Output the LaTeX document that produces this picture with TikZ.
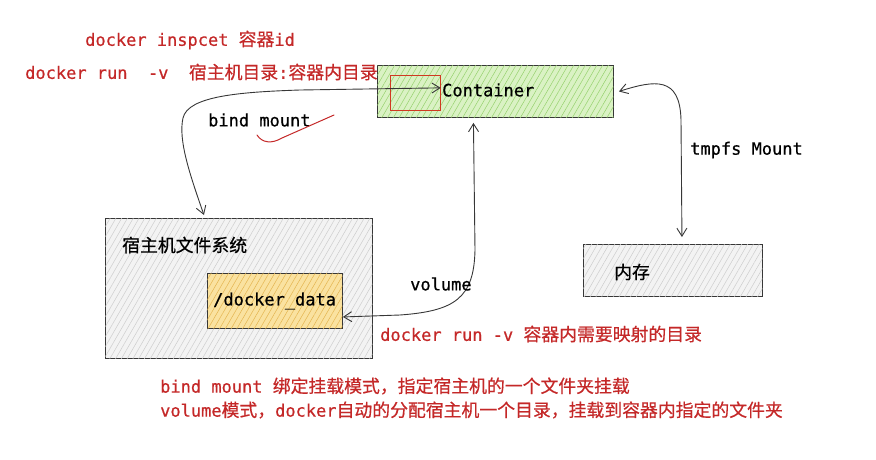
\documentclass[tikz,border=0pt]{standalone}
\usepackage{fontspec}
\setmonofont[FakeBold=0.6]{DejaVu Sans Mono}
\newfontfamily\cjkfont[Scale=1.05,FakeBold=0.6]{Noto Sans CJK SC}
\usetikzlibrary{arrows.meta,patterns.meta}
\definecolor{sketchred}{RGB}{196,40,40}
\definecolor{boxgreen}{RGB}{218,242,196}
\definecolor{hatchgreen}{RGB}{150,210,110}
\definecolor{boxgray}{RGB}{243,243,243}
\definecolor{hatchgray}{RGB}{205,205,205}
\definecolor{boxyellow}{RGB}{250,226,160}
\definecolor{hatchyellow}{RGB}{228,180,80}
\definecolor{inkgray}{RGB}{55,55,55}
\newcommand{\zh}[1]{{\cjkfont #1}}

\tikzset{
  sketchbox/.style={draw=inkgray, line width=0.9pt, inner sep=0pt, anchor=north west},
  hatch/.style={postaction={pattern={Lines[angle=60,distance=5pt,line width=0.5pt]}, pattern color=#1}},
  txt/.style={anchor=west, inner sep=0pt, font=\ttfamily\fontsize{17}{20}\selectfont},
  redtxt/.style={txt, text=sketchred},
  link/.style={draw=inkgray, line width=0.9pt, >={Straight Barb[length=8pt,width=10pt]}, <->}
}

\begin{document}
\begin{tikzpicture}[x=1pt, y=-1pt]

    % page
    \useasboundingbox (0,0) rectangle (876,459);

    % commands at the top
    \node[redtxt] (inspect) at (85,40) {docker inspcet \zh{容器}id};
    \node[redtxt] (bindcmd) at (25,72) {docker run\ \ -v\ \ \zh{宿主机目录}:\zh{容器内目录}};

    % container
    \node[sketchbox, fill=boxgreen, hatch=hatchgreen, minimum width=236pt, minimum height=52pt] (container) at (377,65) {};
    \node[sketchbox, draw=sketchred!80!orange, line width=0.7pt, minimum width=50pt, minimum height=35pt] (cmark) at (390,75) {};
    \node[txt] (ctext) at (442,90) {Container};

    % host file system
    \node[sketchbox, fill=boxgray, hatch=hatchgray, minimum width=267pt, minimum height=140pt] (hostfs) at (105,218) {};
    \node[txt] (hostlabel) at (122,245) {\zh{宿主机文件系统}};
    \node[sketchbox, fill=boxyellow, hatch=hatchyellow, minimum width=135pt, minimum height=55pt] (ddata) at (207,273) {};
    \node[txt] (dtext) at (213,301) {/docker\_data};

    % memory
    \node[sketchbox, fill=boxgray, hatch=hatchgray, minimum width=179pt, minimum height=52pt] (mem) at (583,244) {};
    \node[txt] (memlabel) at (614,272) {\zh{内存}};

    % bind mount
    \draw[link] ([xshift=-35pt,yshift=3pt]hostfs.north) .. controls (190,175) and (178,140) .. (183,118)
        .. controls (188,96) and (240,92) .. (300,90) -- ([yshift=5pt]cmark.east);
    \node[txt] (bindlabel) at (208,120) {bind mount};
    \draw[sketchred, line width=1pt, line cap=round] (257,135) .. controls (262,143) and (272,144) .. (282,138) -- (334,115);

    % volume
    \draw[link] ([yshift=-16pt]ddata.east) -- (400,315) .. controls (455,311) and (474,298) .. (475,250)
        -- ([xshift=-22pt,yshift=-5pt]container.south);
    \node[txt] (vollabel) at (410,284) {volume};
    \node[redtxt] (volcmd) at (380,334) {docker run -v \zh{容器内需要映射的目录}};

    % tmpfs
    \draw[link] ([xshift=5pt]container.east) .. controls (655,80) and (680,76) .. (681,120)
        -- ([xshift=9pt,yshift=7pt]mem.north);
    \node[txt] (tmpfslabel) at (690,150) {tmpfs Mount};

    % notes
    \node[redtxt] (note1) at (160,386) {bind mount \zh{绑定挂载模式，指定宿主机的一个文件夹挂载}};
    \node[redtxt] (note2) at (160,410) {volume\zh{模式，}docker\zh{自动的分配宿主机一个目录，挂载到容器内指定的文件夹}};

\end{tikzpicture}
\end{document}
